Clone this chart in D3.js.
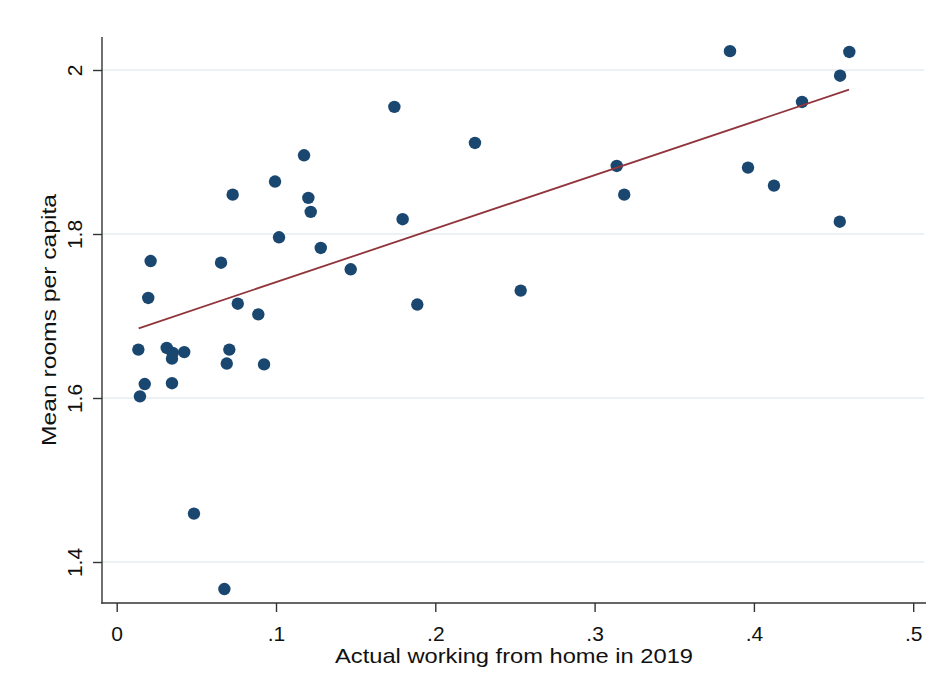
<!DOCTYPE html>
<html><head><meta charset="utf-8">
<script src="https://cdn.jsdelivr.net/npm/d3@7"></script>
<style>body{margin:0;background:#fff}svg{display:block}text{font-family:"Liberation Sans",Arial,sans-serif;fill:#111}</style>
</head><body>
<svg id="c" width="935" height="687"></svg>
<script>
const wfh = [0.0136,0.0146,0.0176,0.0198,0.0213,0.0314,0.0352,0.0347,0.0347,0.0424,0.0485,0.0655,0.0676,0.0691,0.0707,0.0728,0.0760,0.0889,0.0925,0.0994,0.1019,0.1176,0.1203,0.1218,0.1281,0.1469,0.1743,0.1795,0.1887,0.2249,0.2536,0.3139,0.3186,0.3850,0.3963,0.4126,0.4302,0.4539,0.4541,0.4599];
const rooms = [1.659,1.602,1.617,1.722,1.767,1.661,1.655,1.648,1.618,1.656,1.459,1.765,1.367,1.642,1.659,1.848,1.715,1.702,1.641,1.864,1.796,1.896,1.844,1.827,1.783,1.757,1.955,1.818,1.714,1.911,1.731,1.883,1.848,2.023,1.881,1.859,1.961,1.815,1.993,2.022];
const fitX = [0.0138,0.4597];
const fitY = [1.685,1.976];
const xTicks = [0,0.1,0.2,0.3,0.4,0.5];
const xTickLabels = ["0",".1",".2",".3",".4",".5"];
const yTicks = [1.4,1.6,1.8,2];
const yTickLabels = ["1.4","1.6","1.8","2"];
const xTitle = "Actual working from home in 2019";
const yTitle = "Mean rooms per capita";

const svg = d3.select("#c");
const L=102,R=926,T=37,B=603;
const x = d3.scaleLinear().domain([0,0.5]).range([116.7,913.2]);
const y = d3.scaleLinear().domain([1.4,2]).range([562,70]);

// gridlines
svg.append("g").selectAll("line").data(yTicks).join("line")
  .attr("x1",L).attr("x2",R-2).attr("y1",d=>y(d)).attr("y2",d=>y(d))
  .attr("stroke","#e6eef1").attr("stroke-width",1.5);

// axes
const xa = svg.append("g").attr("transform",`translate(0,${B})`)
  .call(d3.axisBottom(x).tickValues(xTicks).tickFormat((d,i)=>xTickLabels[i]).tickSize(9).tickSizeOuter(0).tickPadding(5));
const ya = svg.append("g").attr("transform",`translate(${L},0)`)
  .call(d3.axisLeft(y).tickValues(yTicks).tickFormat((d,i)=>yTickLabels[i]).tickSize(9).tickSizeOuter(0));
[xa,ya].forEach(g=>{g.select(".domain").remove();g.selectAll("line").attr("stroke","#333").attr("stroke-width",1.4);g.selectAll("text").attr("font-size",21).attr("fill","#111").attr("font-family","Liberation Sans, Arial, sans-serif");});
xa.selectAll("text").attr("dy",null).attr("y",37.7);
ya.selectAll("text").attr("x",null).attr("dy",null).attr("text-anchor","middle")
  .attr("transform","translate(-20.5,0) rotate(-90)");
svg.append("line").attr("x1",L).attr("x2",L).attr("y1",T).attr("y2",B+0.7).attr("stroke","#333").attr("stroke-width",1.4);
svg.append("line").attr("x1",L-0.7).attr("x2",R).attr("y1",B).attr("y2",B).attr("stroke","#333").attr("stroke-width",1.4);

// points
svg.append("g").selectAll("circle").data(wfh).join("circle")
  .attr("cx",d=>x(d)).attr("cy",(d,i)=>y(rooms[i])).attr("r",6.2).attr("fill","#1a476f");

// fit line
svg.append("path").datum(fitX.map((d,i)=>[d,fitY[i]]))
  .attr("d",d3.line().x(d=>x(d[0])).y(d=>y(d[1]))).attr("fill","none").attr("stroke","#90353b").attr("stroke-width",1.8);

svg.append("text").attr("x",(L+R)/2).attr("y",662.5).attr("text-anchor","middle").attr("font-size",21)
  .attr("textLength",358).attr("lengthAdjust","spacingAndGlyphs").text(xTitle);
svg.append("text").attr("transform",`translate(56,${(T+B)/2}) rotate(-90)`).attr("text-anchor","middle").attr("font-size",21)
  .attr("textLength",252).attr("lengthAdjust","spacingAndGlyphs").text(yTitle);
</script>
</body></html>
